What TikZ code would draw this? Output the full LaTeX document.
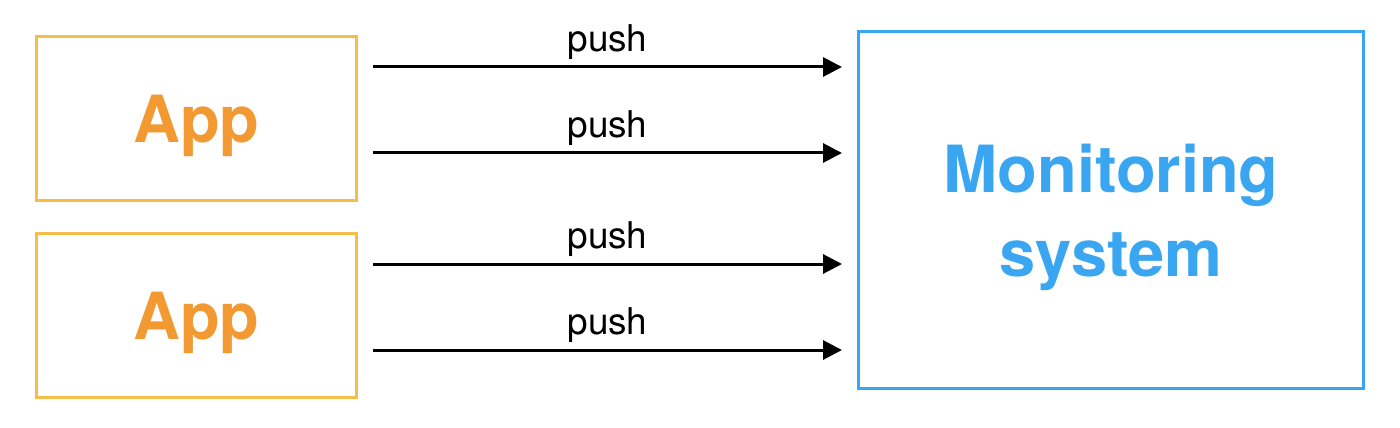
\documentclass[tikz,border=0pt]{standalone}
\usepackage{fontspec}
\setmainfont{TeX Gyre Heros}
\usetikzlibrary{arrows.meta,positioning}
\definecolor{appline}{HTML}{F5BE4B}
\definecolor{apptext}{HTML}{F29932}
\definecolor{monblue}{HTML}{3AA5F0}

\begin{document}
\begin{tikzpicture}[
	appbox/.style={draw=appline,line width=0.06cm,minimum width=6.4cm,minimum height=3.28cm,text=apptext,font=\fontsize{37}{44}\selectfont\bfseries,text depth=0pt},
	pusharrow/.style={-{Triangle[length=0.38cm,width=0.38cm]},line width=0.06cm,shorten <=0.3cm,shorten >=0.3cm},
	pushlabel/.style={midway,anchor=base,yshift=0.31cm,font=\fontsize{21}{25}\selectfont}]
						\useasboundingbox (0,0) rectangle (28,8.54);
						
						\node[appbox](A1) at (3.93,6.17){App};
						\node[appbox,below=0.6cm of A1](A2){App};
						\node[draw=monblue,line width=0.06cm,minimum width=10.1cm,minimum height=7.12cm,text=monblue,align=center,font=\fontsize{37}{47.6}\selectfont\bfseries,text depth=0pt](M) at (22.22,4.34){Monitoring\\system};
						
						\foreach \a in {1,2}
						{
							\foreach \dy in {1.03,-0.69}
								\draw[pusharrow] ([yshift=\dy cm]A\a.east) -- ([yshift=\dy cm]A\a.east -| M.west) node[pushlabel]{push};
						}
					\end{tikzpicture}
\end{document}
